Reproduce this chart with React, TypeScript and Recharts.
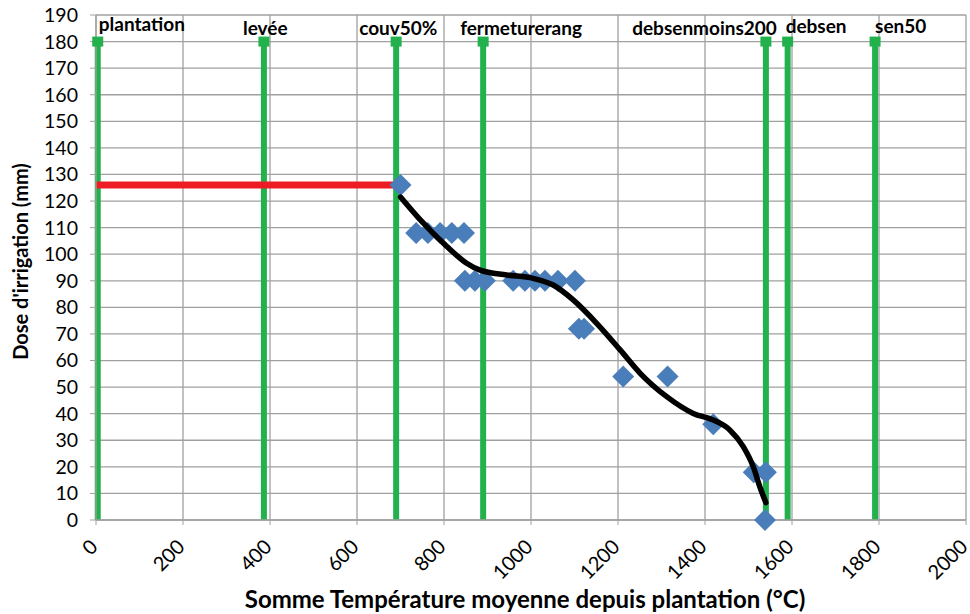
import {
  ComposedChart,
  Line,
  Scatter,
  XAxis,
  YAxis,
  CartesianGrid,
} from "recharts";

// stades culturaux (somme de températures, °C)
const STAGE_NAMES = [
  "plantation",
  "levée",
  "couv50%",
  "fermeturerang",
  "debsenmoins200",
  "debsen",
  "sen50",
];
const STAGE_X = [4, 386, 690, 890, 1540, 1590, 1791];
const STAGE_TOP = 180;

// doses d'irrigation observées
const DOSE_X = [
  700, 736, 763, 791, 818, 846, 848, 871, 894, 959, 986, 1009, 1032, 1062,
  1101, 1110, 1122, 1212, 1314, 1419, 1512, 1540, 1538,
];
const DOSE_Y = [
  126, 108, 108, 108, 108, 108, 90, 90, 90, 90, 90, 90, 90, 90, 90, 72, 72,
  54, 54, 36, 18, 18, 0,
];

// courbe de tendance
const TREND_X = [
  700, 745, 806, 852, 883, 944, 1005, 1051, 1097, 1151, 1205, 1251, 1312,
  1373, 1419, 1457, 1488, 1511, 1526, 1540,
];
const TREND_Y = [
  121.5, 113, 103, 96.6, 94, 92.2, 90.9, 88.4, 82.8, 74, 64, 55.2, 46.4, 40.1,
  37.6, 33.9, 27.6, 20, 12.5, 6.5,
];

// dose de départ
const START_X = [0, 700];
const START_Y = [126, 126];

const X_TICKS = [0, 200, 400, 600, 800, 1000, 1200, 1400, 1600, 1800, 2000];
const Y_TICKS = Array.from({ length: 20 }, (_, i) => i * 10);

// label placement per stage (pixels from the line top)
const LABEL_STYLE: { dx: number; dy: number; anchor: "start" | "end" }[] = [
  { dx: 1, dy: -10.6, anchor: "start" },
  { dx: -21, dy: -6.3, anchor: "start" },
  { dx: -37, dy: -6.3, anchor: "start" },
  { dx: -23, dy: -6.3, anchor: "start" },
  { dx: 11, dy: -6.3, anchor: "end" },
  { dx: -2, dy: -8.6, anchor: "start" },
  { dx: 0, dy: -8.6, anchor: "start" },
];

const FONT = "Lato, 'Liberation Sans', sans-serif";
const GRID = "#a0a0a0";
const GREEN = "#22b14c";

const doses = DOSE_X.map((x, i) => ({ x, y: DOSE_Y[i] }));
const trend = TREND_X.map((x, i) => ({ x, y: TREND_Y[i] }));
const start = START_X.map((x, i) => ({ x, y: START_Y[i] }));

function Diamond(props: any) {
  const { cx, cy } = props;
  const r = 11;
  return (
    <polygon
      points={`${cx},${cy - r} ${cx + r},${cy} ${cx},${cy + r} ${cx - r},${cy}`}
      fill="#4a7ebb"
    />
  );
}

function XTick(props: any) {
  const { x, y, payload } = props;
  const ax = x + 3;
  const ay = y + 21;
  return (
    <text
      x={ax}
      y={ay}
      transform={`rotate(-45 ${ax} ${ay})`}
      textAnchor="end"
      fontSize={20}
      fontFamily={FONT}
      fill="#000"
    >
      {payload.value}
    </text>
  );
}

export default function App() {
  return (
    <div style={{ position: "absolute", left: 0, top: 0, background: "#fff" }}>
      <ComposedChart
        width={970}
        height={614}
        margin={{ top: 15, right: 4, bottom: 0, left: 0 }}
      >
        <CartesianGrid stroke={GRID} strokeWidth={1.3} />
        <XAxis
          dataKey="x"
          type="number"
          domain={[0, 2000]}
          ticks={X_TICKS}
          interval={0}
          height={94}
          tick={<XTick />}
          tickSize={5}
          stroke={GRID}
          axisLine={{ stroke: GRID, strokeWidth: 1.3 }}
          label={{
            content: (p: any) => (
              <text
                x={p.viewBox.x + p.viewBox.width / 2 - 6}
                y={608}
                textAnchor="middle"
                fontSize={24}
                fontWeight={700}
                fontFamily={FONT}
                fill="#000"
              >
                Somme Température moyenne depuis plantation (°C)
              </text>
            ),
          }}
        />
        <YAxis
          type="number"
          domain={[0, 190]}
          ticks={Y_TICKS}
          interval={0}
          width={96}
          tickSize={6}
          tickMargin={12}
          stroke={GRID}
          axisLine={{ stroke: GRID, strokeWidth: 1.3 }}
          tick={{ fill: "#000", fontSize: 19.5, fontFamily: FONT }}
          label={{
            content: (p: any) => {
              const cx = 20;
              const cy = p.viewBox.y + p.viewBox.height / 2 - 6;
              return (
                <text
                  x={cx}
                  y={cy}
                  transform={`rotate(-90 ${cx} ${cy})`}
                  textAnchor="middle"
                  dominantBaseline="central"
                  fontSize={20}
                  fontWeight={700}
                  fontFamily={FONT}
                  fill="#000"
                >
                  Dose d'irrigation (mm)
                </text>
              );
            },
          }}
        />
        {STAGE_NAMES.map((name, i) => {
          const st = LABEL_STYLE[i];
          return (
            <Line
              key={name}
              data={[
                { x: STAGE_X[i], y: 0 },
                { x: STAGE_X[i], y: STAGE_TOP },
              ]}
              dataKey="y"
              stroke={GREEN}
              strokeWidth={6}
              isAnimationActive={false}
              dot={(p: any) =>
                p.index === 1 ? (
                  <g key={`d${i}`}>
                    <rect
                      x={p.cx - 5.5}
                      y={p.cy - 5}
                      width={11}
                      height={10}
                      fill={GREEN}
                    />
                    <text
                      x={p.cx + st.dx}
                      y={p.cy + st.dy}
                      textAnchor={st.anchor}
                      fontSize={19}
                      fontWeight={700}
                      fontFamily={FONT}
                      fill="#000"
                    >
                      {name}
                    </text>
                  </g>
                ) : (
                  <g key={`e${i}`} />
                )
              }
              activeDot={false}
            />
          );
        })}
        <Line
          data={start}
          dataKey="y"
          stroke="#ed1c24"
          strokeWidth={7}
          dot={false}
          activeDot={false}
          isAnimationActive={false}
        />
        <Scatter
          data={doses}
          dataKey="y"
          shape={<Diamond />}
          isAnimationActive={false}
        />
        <Line
          data={trend}
          dataKey="y"
          type="monotone"
          stroke="#000"
          strokeWidth={5.5}
          strokeLinecap="round"
          dot={false}
          activeDot={false}
          isAnimationActive={false}
          zIndex={700}
        />
      </ComposedChart>
    </div>
  );
}
